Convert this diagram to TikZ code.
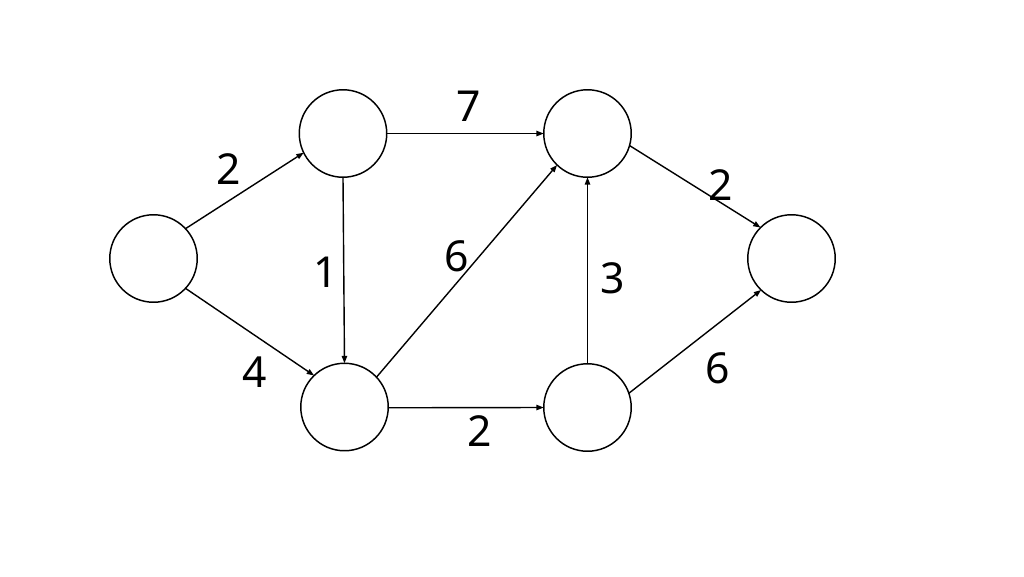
\documentclass[tikz,border=0pt]{standalone}
\usepackage{fontspec}
\setmainfont{Noto Sans}
\usetikzlibrary{arrows.meta}
\begin{document}
\begin{tikzpicture}[x=0.75pt,y=-0.75pt,
  vtx/.style={circle,draw,line width=1.1pt,minimum size=65.6pt,inner sep=0pt,outer sep=0pt},
  edge/.style={draw,line width=1.05pt,-{Triangle[length=5.5pt,width=4pt]}},
  wlab/.style={font=\fontsize{32}{36}\selectfont,inner sep=0pt}]
\useasboundingbox[fill=white] (0,0) rectangle (1024,576);
\node[vtx] (A) at (153.5,258.5) {};
\node[vtx] (B) at (343,133.5) {};
\node[vtx] (C) at (344.5,407) {};
\node[vtx] (D) at (587.5,133.5) {};
\node[vtx] (E) at (587.5,407.5) {};
\node[vtx] (F) at (791.5,258.5) {};
\draw[edge] (A.43) -- (B.206);
\draw[edge] (A.317) -- (C.134);
\draw[edge] (B.south) -- (C.north);
\draw[edge] (B.east) -- (D.west);
\draw[edge] (C.43) -- (D.226);
\draw[edge] (C.-1.3) -- (E.west);
\draw[edge] (E.north) -- (D.south);
\draw[edge] (D.-16) -- (F.135);
\draw[edge] (E.19) -- (F.226);
\node[wlab] (l1) at (229,169) {2};
\node[wlab] (l2) at (469,106) {7};
\node[wlab] (l3) at (457,256) {6};
\node[wlab] (l4) at (326,272.5) {1};
\node[wlab] (l5) at (254.5,372) {4};
\node[wlab] (l6) at (480,431) {2};
\node[wlab] (l7) at (721,185) {2};
\node[wlab] (l8) at (612.5,278) {3};
\node[wlab] (l9) at (718,368) {6};
\end{tikzpicture}
\end{document}
